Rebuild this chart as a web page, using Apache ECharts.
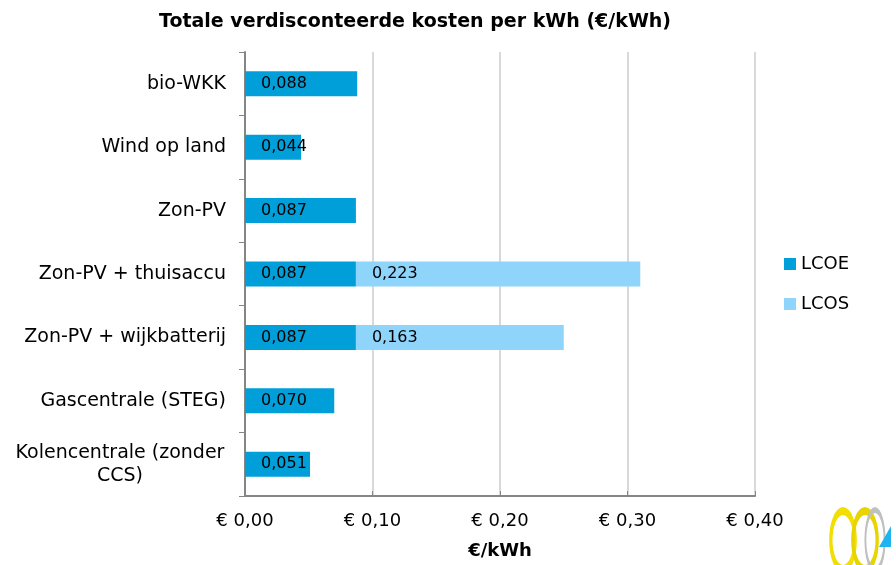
<!DOCTYPE html>
<html><head><meta charset="utf-8">
<script src="https://cdn.jsdelivr.net/npm/echarts@6/dist/echarts.min.js"></script>
<style>html,body{margin:0;padding:0;background:#fff}#c{width:896px;height:565px}</style>
</head><body><div id="c"></div>
<script>
const categories = ['bio-WKK','Wind op land','Zon-PV','Zon-PV + thuisaccu','Zon-PV + wijkbatterij','Gascentrale (STEG)','Kolencentrale (zonder CCS)'];
const lcoe = [0.088, 0.044, 0.087, 0.087, 0.087, 0.070, 0.051];
const lcos = [null, null, null, 0.223, 0.163, null, null];
const xTicks = [0, 0.1, 0.2, 0.3, 0.4];
const FONT = 'DejaVu Sans';
const fmt = v => v.toFixed(3).replace('.', ',');
const chart = echarts.init(document.getElementById('c'), null, {renderer:'canvas'});
const lbl = {show:true, position:'insideLeft', distance:16, color:'#000', fontFamily:FONT, fontSize:16,
  formatter: p => p.value == null ? '' : fmt(p.value)};
chart.setOption({
  animation:false,
  textStyle:{fontFamily:FONT},
  title:{text:'Totale verdisconteerde kosten per kWh (€/kWh)', left:410, top:8, textAlign:'center',
    textStyle:{fontFamily:FONT, fontSize:19, fontWeight:'bold', color:'#000'}},
  legend:{orient:'vertical', left:779, top:250, itemWidth:12, itemHeight:12, itemGap:22,
    textStyle:{fontFamily:FONT, fontSize:18, color:'#000'}, icon:'rect', data:['LCOE','LCOS']},
  grid:{left:245, right:141, top:52, bottom:68, containLabel:false},
  xAxis:{type:'value', min:0, max:0.4, interval:0.1,
    name:'€/kWh', nameLocation:'middle', nameGap:46, nameTextStyle:{fontFamily:FONT, fontSize:18, fontWeight:'bold', color:'#000'},
    axisLine:{show:true, lineStyle:{color:'#868686', width:2}},
    axisTick:{show:true, inside:true, length:5, lineStyle:{color:'#868686'}},
    splitLine:{lineStyle:{color:'#d9d9d9', width:2}},
    axisLabel:{margin:16, fontFamily:FONT, fontSize:18, color:'#000', formatter: v => '€ ' + v.toFixed(2).replace('.', ',')}},
  yAxis:{type:'category', inverse:true, data:categories,
    axisLine:{show:true, lineStyle:{color:'#868686', width:2}},
    axisTick:{show:true, length:6, lineStyle:{color:'#868686'}},
    axisLabel:{margin:19, fontFamily:FONT, fontSize:19, color:'#000',
      formatter: v => v === 'Kolencentrale (zonder CCS)' ? '{c|Kolencentrale (zonder}\n{c|CCS)}' : v,
      rich:{c:{fontFamily:FONT, fontSize:19, color:'#000', width:212, align:'center', lineHeight:23}}}},
  series:[
    {name:'LCOE', type:'bar', stack:'t', data:lcoe, barWidth:25, itemStyle:{color:'#009fd9'}, label:lbl},
    {name:'LCOS', type:'bar', stack:'t', data:lcos, barWidth:25, itemStyle:{color:'#8fd4fb'}, label:lbl}
  ],
  graphic:[
    {type:'ring', shape:{cx:843, cy:540, r:33, r0:25}, scaleX:0.42, originX:843, originY:540, style:{fill:'#f2de00'}},
    {type:'ring', shape:{cx:865, cy:540, r:33, r0:25}, scaleX:0.42, originX:865, originY:540, style:{fill:'#e8d400'}},
    {type:'ring', shape:{cx:875, cy:540, r:33, r0:27}, scaleX:0.32, originX:875, originY:540, style:{fill:'#c0c0c0'}},
    {type:'polygon', shape:{points:[[879,547],[891,526],[891,547]]}, style:{fill:'#1eb4ef'}}
  ]
});
</script></body></html>
